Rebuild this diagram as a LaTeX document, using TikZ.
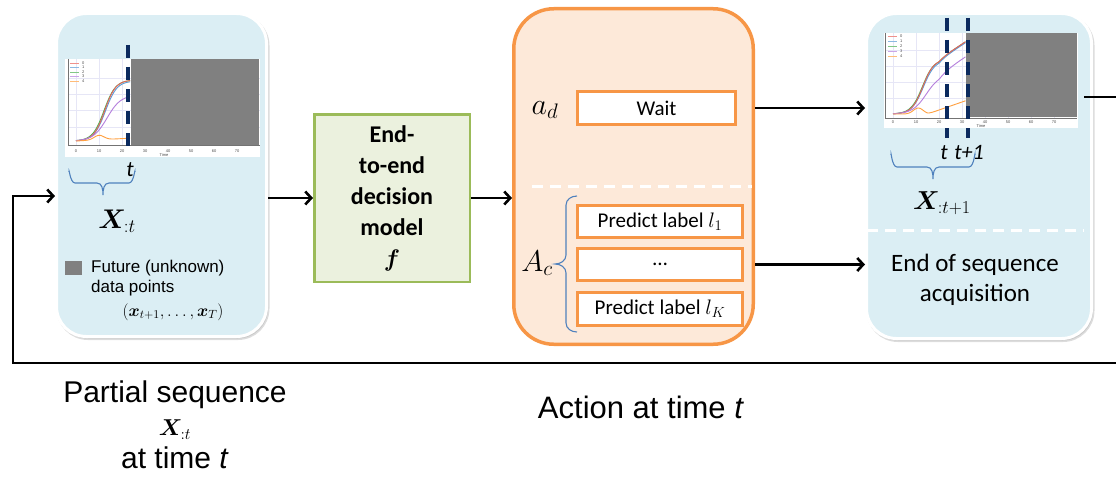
\RequirePackage{fix-cm}
\documentclass[tikz,border=0pt]{standalone}
\usepackage{amsmath}
\usepackage{bm}
\usepackage{fontspec}
\setmainfont{Liberation Sans}
\newfontfamily\carlito{Carlito}
\usetikzlibrary{arrows.meta,shadows,calc}

\newcommand\fsz[2]{\fontsize{#1}{#2}\selectfont}

\definecolor{panelblue}{HTML}{DBEEF4}
\definecolor{modelgreen}{HTML}{EBF1DE}
\definecolor{modeledge}{HTML}{9BBB59}
\definecolor{actfill}{HTML}{FDE9D9}
\definecolor{actedge}{HTML}{F79646}
\definecolor{navy}{HTML}{0B2A5E}
\definecolor{bracecol}{HTML}{4F81BD}
\definecolor{futuregray}{HTML}{808080}
\definecolor{gridc}{HTML}{E6E6F6}
\definecolor{cz}{HTML}{E8625A}
\definecolor{co}{HTML}{5B9BD5}
\definecolor{ct}{HTML}{4CAF50}
\definecolor{cth}{HTML}{B57EDC}
\definecolor{cf}{HTML}{FFA040}

\begin{document}
\begin{tikzpicture}[x=1pt,y=-1pt,
  panel/.style={draw=white, line width=3pt, fill=panelblue, rounded corners=30pt,
    drop shadow={shadow xshift=1.5pt, shadow yshift=-2pt, fill=black!30,
      draw=black!30, line width=3pt, opacity=0.45}},
  modelbox/.style={draw=modeledge, fill=modelgreen, line width=2.5pt,
    minimum width=155.5pt, minimum height=167.5pt, align=center, inner sep=0pt,
    font=\carlito\bfseries\fsz{24}{31}},
  actbox/.style={draw=actedge, fill=actfill, line width=3.5pt, rounded corners=40pt,
    minimum width=239.5pt, minimum height=335.5pt},
  choice/.style={draw=actedge, fill=white, line width=3pt, inner sep=0pt,
    minimum height=32.5pt, font=\carlito\fsz{21}{25}},
  flow/.style={line width=2.6pt, -{Straight Barb[length=6pt,width=13pt]}},
  plain/.style={line width=2.6pt},
  sep/.style={draw=white, line width=3pt, dash pattern=on 11pt off 7pt},
  cutline/.style={draw=navy, line width=3.5pt, dash pattern=on 13pt off 9pt},
  bracestroke/.style={draw=bracecol, line width=1.1pt},
  gridline/.style={draw=gridc, line width=0.5pt},
  axisline/.style={draw=black!55, line width=0.6pt},
  curve/.style={line width=0.9pt},
  ticklbl/.style={font=\fsz{4}{4}, inner sep=0pt, text=black!70},
  mathlbl/.style={inner sep=0pt},
  calib/.style={font=\carlito\fsz{25}{30}, align=center, inner sep=0pt}
]
\useasboundingbox (0,0) rectangle (1116,487);

% ---------- containers ----------
\node[panel, minimum width=210pt, minimum height=323pt] (left) at (161.5,175) {};
\node[panel, minimum width=225pt, minimum height=325pt] (right) at (979,176) {};
\node[modelbox] (model) at (392,198)
  {End-\\to-end\\decision\\model\\$\bm{f}$};
\node[actbox] (action) at (633.5,176.5) {};

% ---------- left panel: observed prefix ----------
\fill[white] (65,59) rectangle (260,157);
\foreach \k in {0,...,7} \draw[gridline] ({76+23*\k},59) -- ({76+23*\k},145);
\foreach \yy in {78,94,110,127} \draw[gridline] (68,\yy) -- (260,\yy);
\draw[axisline] (68,59) -- (68,145) -- (260,145);
\foreach \k/\lab in {0/0,1/10,2/20,3/30,4/40,5/50,6/60,7/70}
  \node[ticklbl] (lt\k) at ({76+23*\k},151) {\lab};
\node[ticklbl] (ltime) at (164,155.5) {Time};
\draw[ct, curve] plot[domain=0:23.5, samples=50, smooth]
  ({76+2.3*\x},{141-61/(1+exp(-(\x-12.2)/2.5))});
\draw[co, curve] plot[domain=0:23.5, samples=50, smooth]
  ({76+2.3*\x},{141-60/(1+exp(-(\x-12.8)/2.5))});
\draw[cz, curve] plot[domain=0:23.5, samples=50, smooth]
  ({76+2.3*\x},{141-61/(1+exp(-(\x-12.5)/2.4))});
\draw[cth, curve] plot[domain=0:23.5, samples=50, smooth]
  ({76+2.3*\x},{141-46/(1+exp(-(\x-13.5)/3))});
\draw[cf, curve] plot[domain=0:23.5, samples=50, smooth]
  ({76+2.3*\x},{141-4.5*exp(-((\x-10)/3)^2)-0.12*\x});
\foreach \c/\lab [count=\i from 0] in {cz/0,co/1,ct/2,cth/3,cf/4} {
  \draw[\c!70, line width=0.8pt] (70,{63+4.5*\i}) -- (79,{63+4.5*\i});
  \node[ticklbl, anchor=west] (ll\i) at (82,{63+4.5*\i}) {\lab};
}
\fill[futuregray] (131,59) rectangle (259,145);
\coordinate (cutLtop) at (128,45);
\coordinate (cutLbot) at (128,149);
\draw[cutline] (cutLtop) -- (cutLbot);

\node[font=\carlito\itshape\fsz{22}{24}, inner sep=0pt] (tL) at (130,170) {t};
% curly brace under the observed prefix
\draw[bracestroke] (69,172) to[out=90,in=180] (75,183) -- (97,183)
  to[out=0,in=90] (103,195) to[out=90,in=180] (109,183) -- (129,183)
  to[out=0,in=90] (135,172);
\node[mathlbl, font=\fsz{27}{30}] (XL) at (117,221) {$\bm{X}_{:t}$};

\node[fill=futuregray, minimum width=17pt, minimum height=14pt, inner sep=0pt]
  (legsq) at (73.5,268) {};
\node[anchor=west, align=left, font=\fsz{17}{20}, inner sep=0pt] (legtxt) at (91,278)
  {Future (unknown)\\data points};
\node[mathlbl, font=\fsz{17}{20}] (xs) at (173,312)
  {$(\bm{x}_{t+1},\dots,\bm{x}_T)$};

% ---------- right panel: one step later ----------
\fill[white] (884,33) rectangle (1078,128);
\foreach \k in {0,...,7} \draw[gridline] ({893+23*\k},33) -- ({893+23*\k},118);
\foreach \yy in {50,66,82,98} \draw[gridline] (885,\yy) -- (1077,\yy);
\draw[axisline] (885,33) -- (885,118) -- (1077,118);
\foreach \k/\lab in {0/0,1/10,2/20,3/30,4/40,5/50,6/60,7/70}
  \node[ticklbl] (rt\k) at ({893+23*\k},122.5) {\lab};
\node[ticklbl] (rtime) at (981,126.5) {Time};
\draw[ct, curve] plot[domain=0:31.5, samples=60, smooth]
  ({893+2.3*\x},{114-55/(1+exp(-(\x-12.8)/2.5))-0.75*(\x-20+abs(\x-20))});
\draw[co, curve] plot[domain=0:31.5, samples=60, smooth]
  ({893+2.3*\x},{114-54/(1+exp(-(\x-13.2)/2.5))-0.75*(\x-20+abs(\x-20))});
\draw[cz, curve] plot[domain=0:31.5, samples=60, smooth]
  ({893+2.3*\x},{114-55/(1+exp(-(\x-13)/2.4))-0.75*(\x-20+abs(\x-20))});
\draw[cth, curve] plot[domain=0:31.5, samples=60, smooth]
  ({893+2.3*\x},{114-40/(1+exp(-(\x-14.5)/3))-0.75*(\x-20+abs(\x-20))});
\draw[cf, curve] plot[domain=0:31.5, samples=60, smooth]
  ({893+2.3*\x},{114-6*exp(-((\x-11)/3)^2)-0.4*(\x-15+abs(\x-15))});
\foreach \c/\lab [count=\i from 0] in {cz/0,co/1,ct/2,cth/3,cf/4} {
  \draw[\c!70, line width=0.8pt] (888,{36+5*\i}) -- (897,{36+5*\i});
  \node[ticklbl, anchor=west] (rl\i) at (900,{36+5*\i}) {\lab};
}
\fill[futuregray] (966,33) rectangle (1077,117);
\coordinate (cutRatop) at (947,18);
\coordinate (cutRabot) at (947,138);
\coordinate (cutRbtop) at (968,18);
\coordinate (cutRbbot) at (968,138);
\draw[cutline] (cutRatop) -- (cutRabot);
\draw[cutline] (cutRbtop) -- (cutRbbot);

\node[font=\carlito\itshape\fsz{22}{24}, inner sep=0pt] (tR) at (944,153) {t};
\node[font=\carlito\itshape\fsz{22}{24}, inner sep=0pt] (t1R) at (969,153) {t+1};
% curly brace under the longer prefix
\draw[bracestroke] (891,155) to[out=90,in=180] (897,167) -- (927,167)
  to[out=0,in=90] (933,179) to[out=90,in=180] (939,167) -- (969,167)
  to[out=0,in=90] (975,155);
\node[mathlbl, font=\fsz{26}{30}] (XR) at (942,203) {$\bm{X}_{:t+1}$};

\coordinate (sepR1) at (867,230);
\coordinate (sepR2) at (1084,230);
\draw[sep] (sepR1) -- (sepR2);
\node[calib] (endseq) at (975,280) {End of sequence\\acquisition};

% ---------- action box ----------
\node[choice, minimum width=158pt] (wait) at (656.5,108) {Wait};
\node[choice, minimum width=165pt] (pl1) at (660,221.5) {Predict label $l_1$};
\node[choice, minimum width=165pt] (dots) at (660,264.5) {…};
\node[choice, minimum width=165pt] (plK) at (660,309) {Predict label $l_K$};
\node[mathlbl, font=\fsz{30}{32}] (ad) at (545,110) {$a_d$};
\node[mathlbl, font=\fsz{30}{32}] (Ac) at (537,263) {$A_c$};
\coordinate (sepA1) at (532,186);
\coordinate (sepA2) at (752,186);
\draw[sep] (sepA1) -- (sepA2);
% curly brace grouping the classification actions
\draw[bracestroke] (577,196) to[out=180,in=90] (566,205) -- (566,255)
  to[out=270,in=0] (555,264) to[out=0,in=90] (566,273) -- (566,323)
  to[out=270,in=180] (577,332);

% ---------- connectors ----------
\draw[flow] (left.east |- model.west) -- (model.west);
\draw[flow] (model.east) -- (model.east -| action.west);
\draw[flow] (wait.east -| action.east) -- (wait.east -| right.west);
\draw[flow] (dots.east -| action.east) -- (dots.east -| right.west);
\coordinate (outA) at (1084,97);
\coordinate (outB) at (1116,97);
\draw[plain] (outA) -- (outB);
\coordinate (loopR) at (1116,363);
\coordinate (loopL) at (13,363);
\coordinate (loopU) at (13,196);
\draw[flow] (loopR) -- (loopL) -- (loopU) -- (loopU -| left.west);

% ---------- captions ----------
\node[align=center, font=\fsz{30}{33}, inner sep=0pt] (capL) at (175,425)
  {Partial sequence\\{\fsz{23}{33}$\bm{X}_{:t}$}\\at time \textit{t}};
\node[font=\fsz{31}{34}, inner sep=0pt] (capA) at (641,407) {Action at time \textit{t}};
\end{tikzpicture}
\end{document}
